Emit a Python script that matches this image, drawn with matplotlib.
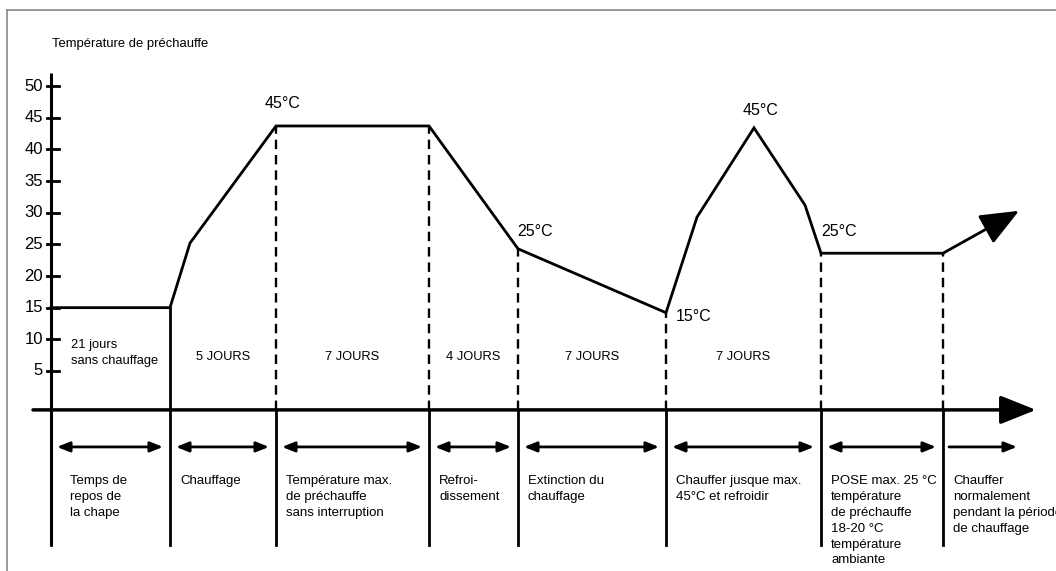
import matplotlib.pyplot as plt
from matplotlib.lines import Line2D

plt.rcParams['font.family'] = ['Liberation Sans', 'DejaVu Sans']

# ================= Data =================
# horizontal positions are schematic (phase boundaries), not proportional to days
bounds = [51, 170, 276, 429, 518, 666, 821, 943]
temp_x = [51, 170, 190, 276, 429, 518, 666, 697, 754, 805, 821, 943]
temp_y = [15, 15, 25.2, 43.7, 43.7, 24.3, 14.2, 29.3, 43.4, 31.2, 23.6, 23.6]
end_arrow = (1019, 30.3)
y_ticks = [5, 10, 15, 20, 25, 30, 35, 40, 45, 50]

# annotations of the curve: (x, y, text)
temp_labels = [(283, 47.3, '45°C'), (535, 27.1, '25°C'), (761, 46.1, '45°C'),
               (694, 13.6, '15°C'), (839, 27.1, '25°C')]

day_labels = ['21 jours\nsans chauffage', '5 JOURS', '7 JOURS', '4 JOURS',
              '7 JOURS', '7 JOURS']
phase_labels = ['Temps de\nrepos de\nla chape', 'Chauffage',
                'Température max.\nde préchauffe\nsans interruption',
                'Refroi-\ndissement', 'Extinction du\nchauffage',
                'Chauffer jusque max.\n45°C et refroidir',
                'POSE max. 25 °C\ntempérature\nde préchauffe\n18-20 °C\ntempérature\nambiante',
                'Chauffer\nnormalement\npendant la période\nde chauffage']

# ================= Figure =================
fig = plt.figure(figsize=(10.56, 5.71), dpi=100)
ax = fig.add_axes([0, 0, 1, 1])
ax.set_xlim(0, 1056)
ax.set_ylim(-26.6, 63.6)
ax.axis('off')

# gray frame (top and left edges visible)
fig.add_artist(Line2D([7 / 1056, 1], [1 - 10 / 571] * 2, color='#888888', lw=1.2))
fig.add_artist(Line2D([7 / 1056] * 2, [0, 1 - 10 / 571], color='#888888', lw=1.2))

axis_y = -1.15
bottom_y = -22.5

# y axis with ticks
ax.plot([51, 51], [bottom_y, 52], color='black', lw=2.2, solid_capstyle='butt')
for t in y_ticks:
    ax.plot([47, 59], [t, t], color='black', lw=2)
    ax.text(43, t, str(t), ha='right', va='center', fontsize=12)
ax.text(52, 56.6, 'Température de préchauffe', ha='left', va='center', fontsize=9.4)

# x axis with arrow
ax.annotate('', xy=(1036, axis_y), xytext=(33, axis_y),
            arrowprops=dict(arrowstyle='-|>,head_length=0.55,head_width=0.22',
                            mutation_scale=40, lw=2.5, color='black',
                            shrinkA=0, shrinkB=0))

# temperature curve
ax.plot(temp_x, temp_y, color='black', lw=2, solid_joinstyle='miter')
ax.annotate('', xy=end_arrow, xytext=(temp_x[-1], temp_y[-1]),
            arrowprops=dict(arrowstyle='-|>,head_length=0.6,head_width=0.25',
                            mutation_scale=40, lw=2, color='black',
                            shrinkA=0, shrinkB=0))

# boundary lines above the axis: solid at the first, dashed after
for i, b in enumerate(bounds[1:]):
    top = temp_y[temp_x.index(b)]
    if i == 0:
        ax.plot([b, b], [axis_y, top], color='black', lw=2)
    else:
        ax.plot([b, b], [axis_y, top], color='black', lw=1.7, linestyle=(0, (4, 2.5)))

# boundary lines below the axis
for b in bounds:
    ax.plot([b, b], [bottom_y, axis_y], color='black', lw=2)

# day counts
ax.text(71, 7.9, day_labels[0], ha='left', va='center', fontsize=9.3,
        linespacing=1.45)
for i, lab in enumerate(day_labels[1:], start=1):
    ax.text((bounds[i] + bounds[i + 1]) / 2, 7.2, lab, ha='center', va='center',
            fontsize=9.3)

# double arrows and phase texts below the axis
arrow_y = -7.0
for i, lab in enumerate(phase_labels):
    left = bounds[i] + 6
    right = bounds[i + 1] - 7 if i + 1 < len(bounds) else 1017
    style = '<|-|>' if i + 1 < len(bounds) else '-|>'
    ax.annotate('', xy=(right, arrow_y), xytext=(left, arrow_y),
                arrowprops=dict(arrowstyle=style + ',head_length=0.5,head_width=0.2',
                                mutation_scale=15, lw=2, color='black',
                                shrinkA=0, shrinkB=0))
    ax.text(bounds[i] + (19 if i == 0 else 10), -11.5, lab, ha='left', va='top',
            fontsize=9.5, linespacing=1.42)

# temperature labels
for x, y, s in temp_labels:
    ax.text(x, y, s, ha='center', va='center', fontsize=11.5)

fig.savefig('out.png', dpi=100)
